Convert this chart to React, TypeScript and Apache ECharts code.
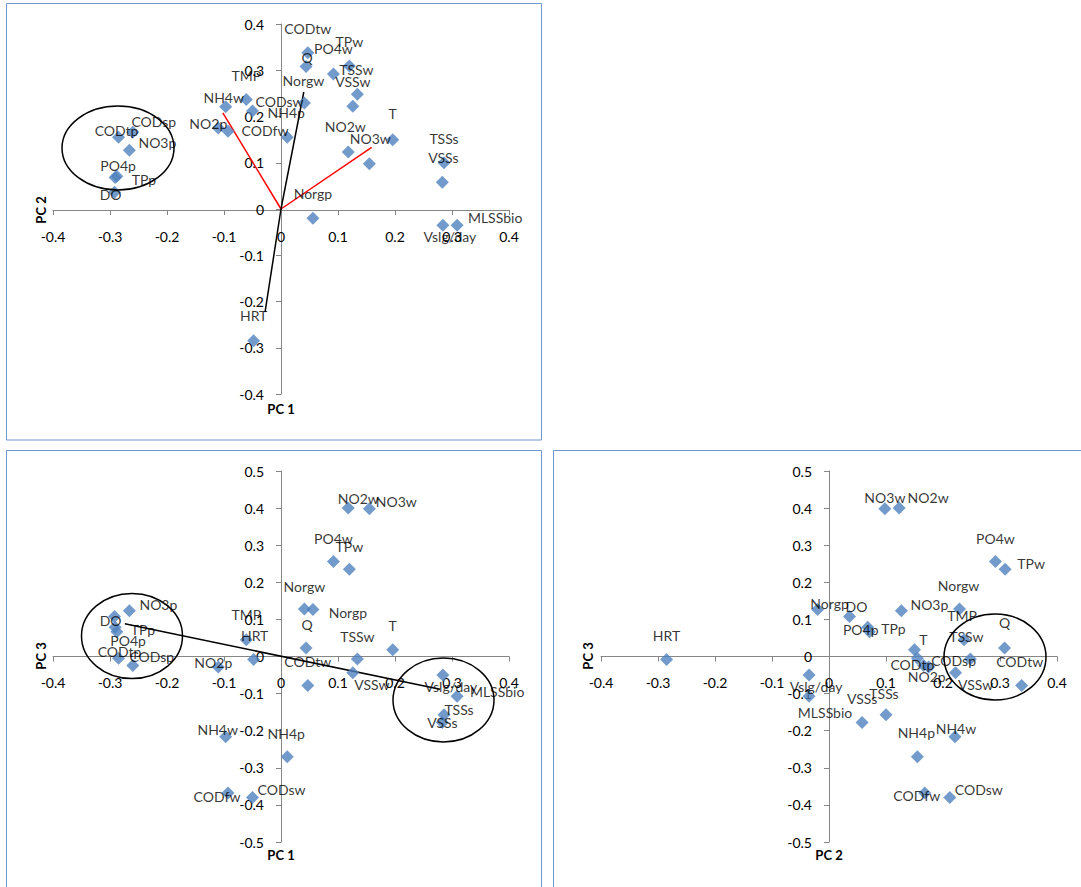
import React, { useEffect, useRef } from "react";
import * as echarts from "echarts";

// ---- data ----
const variables = [
  "CODtw", "Q", "PO4w", "TPw", "TSSw", "VSSw", "Norgw", "TMP", "NH4w", "CODsw",
  "NH4p", "NO2p", "CODfw", "CODtp", "CODsp", "NO3p", "PO4p", "TPp", "DO", "NO2w",
  "NO3w", "T", "TSSs", "VSSs", "Norgp", "MLSSbio", "Vslg/day", "HRT",
];
const pc1 = [
  0.047, 0.044, 0.092, 0.12, 0.134, 0.126, 0.041, -0.061, -0.097, -0.05,
  0.011, -0.11, -0.093, -0.285, -0.26, -0.266, -0.291, -0.288, -0.292, 0.118,
  0.155, 0.196, 0.286, 0.283, 0.056, 0.309, 0.284, -0.048,
];
const pc2 = [
  0.338, 0.308, 0.292, 0.309, 0.248, 0.222, 0.229, 0.237, 0.221, 0.212,
  0.155, 0.175, 0.168, 0.155, 0.166, 0.127, 0.068, 0.071, 0.036, 0.123,
  0.098, 0.15, 0.1, 0.058, -0.02, -0.035, -0.035, -0.285,
];
const pc3 = [
  -0.078, 0.023, 0.256, 0.235, -0.007, -0.044, 0.128, 0.045, -0.216, -0.38,
  -0.27, -0.028, -0.368, -0.005, -0.024, 0.123, 0.079, 0.067, 0.108, 0.4,
  0.398, 0.018, -0.157, -0.178, 0.127, -0.107, -0.05, -0.008,
];

// axis ranges
const rangePC12 = [-0.4, 0.4];
const rangePC3 = [-0.5, 0.5];
const tickStep = 0.1;

// loading vectors drawn from the origin (data units)
const vecRedA = [
  [-0.102, 0.208],
  [0.159, 0.133],
];
const vecBlackA = [
  [0.04, 0.253],
  [-0.028, -0.223],
];
const vecBlackB = [
  [-0.274, 0.088],
  [0.279, -0.088],
];

// ---- label placement (pixel offsets from marker centre) ----
const offsetsA = [
  [0, -24], [1, -9], [0, -25], [0, -25], [-1, -25], [0, -25], [-1, -23], [0, -24], [-2, -9], [27, -9],
  [-1, -25], [-10, -5], [37, -1], [-2, -7], [21, -11], [28, -8], [3, -12], [27, 3], [-4, 2], [-3, -26],
  [1, -25], [0, -26], [0, -24], [1, -25], [0, -25], [38, -8], [7, 11], [0, -25],
];
const offsetsB = [
  [0, -24], [1, -23], [0, -23], [0, -23], [0, -23], [19, 12], [0, -23], [0, -25], [-8, -7], [29, -8],
  [-1, -23], [-5, -4], [-11, 3], [1, -7], [19, -9], [29, -6], [13, 13], [26, -2], [-4, 4], [10, -10],
  [27, -7], [0, -24], [15, -5], [0, 0], [35, 3], [40, -5], [8, 11], [1, -24],
];
const offsetsC = [
  [-2, -24], [0, -25], [0, -23], [26, -6], [-4, -23], [20, 12], [-1, -24], [-2, -24], [1, -8], [29, -8],
  [-1, -24], [-2, 10], [-8, 2], [-5, 6], [30, -5], [28, -6], [-7, 2], [24, -3], [7, -10], [29, -11],
  [0, -11], [9, -10], [-2, -21], [0, -24], [12, -6], [16, 16], [7, 11], [0, -24],
];

const FONT = "Lato, 'Open Sans', sans-serif";
const AXIS_COLOR = "#868686";
const MARKER = "#4f81bd";
const BORDER = "#7098cf";

// axes cross at zero: shift each axis from the grid edge to the zero line
function makeAxis(type: "x" | "y", gridIndex: number, range: number[], offset: number) {
  return {
    type: "value",
    gridIndex,
    position: type === "x" ? "bottom" : "left",
    offset,
    min: range[0],
    max: range[1],
    interval: tickStep,
    axisLine: { show: true, onZero: false, lineStyle: { color: AXIS_COLOR, width: 1 } },
    axisTick: { show: true, length: 5, lineStyle: { color: AXIS_COLOR } },
    axisLabel: {
      color: "#000",
      fontSize: 14,
      fontFamily: FONT,
      margin: type === "x" ? 19 : 17,
    },
    splitLine: { show: false },
  };
}

function scatterSeries(idx: number, xs: number[], ys: number[], offs: number[][]) {
  return {
    type: "scatter",
    xAxisIndex: idx,
    yAxisIndex: idx,
    symbol: "diamond",
    symbolSize: 13,
    itemStyle: { color: MARKER },
    z: 3,
    label: {
      show: true,
      position: "inside",
      formatter: "{b}",
      color: "#000",
      fontSize: 14,
      fontFamily: FONT,
      textBorderWidth: 0,
    },
    emphasis: { disabled: true },
    data: variables.map((name, k) => ({
      name,
      value: [xs[k], ys[k]],
      label: { offset: offs[k] },
    })),
  };
}

function vectorSeries(idx: number, from: number[], to: number[], color: string) {
  return {
    type: "line",
    xAxisIndex: idx,
    yAxisIndex: idx,
    data: [from, to],
    symbol: "none",
    silent: true,
    z: 2,
    lineStyle: { color, width: 1.5 },
  };
}

export default function App() {
  const ref = useRef<HTMLDivElement>(null);

  useEffect(() => {
    if (!ref.current) return;
    const chart = echarts.init(ref.current, undefined, { renderer: "svg" });

    const titleStyle = (text: string) => ({
      text,
      fontSize: 13,
      fontWeight: "bold",
      fontFamily: FONT,
      fill: "#000",
      align: "center",
      verticalAlign: "middle",
    });

    const option: any = {
      animation: false,
      backgroundColor: "#fff",
      grid: [
        { left: 53, top: 24, width: 456, height: 370, containLabel: false, outerBoundsMode: "none" },
        { left: 53, top: 471, width: 456, height: 371, containLabel: false, outerBoundsMode: "none" },
        { left: 601, top: 471, width: 456, height: 371, containLabel: false, outerBoundsMode: "none" },
      ],
      xAxis: [
        makeAxis("x", 0, rangePC12, -184),
        makeAxis("x", 1, rangePC12, -185.5),
        makeAxis("x", 2, rangePC12, -185.5),
      ],
      yAxis: [
        makeAxis("y", 0, rangePC12, -228),
        makeAxis("y", 1, rangePC3, -228),
        makeAxis("y", 2, rangePC3, -228),
      ],
      series: [
        ...vecRedA.map((v) => vectorSeries(0, [0, 0], v, "#ff0000")),
        ...vecBlackA.map((v) => vectorSeries(0, [0, 0], v, "#000000")),
        vectorSeries(1, vecBlackB[0], vecBlackB[1], "#000000"),
        scatterSeries(0, pc1, pc2, offsetsA),
        scatterSeries(1, pc1, pc3, offsetsB),
        scatterSeries(2, pc2, pc3, offsetsC),
      ],
      graphic: {
        elements: [
          { type: "rect", shape: { x: 6.5, y: 3.5, width: 535, height: 436.5 }, style: { fill: "none", stroke: BORDER, lineWidth: 1 }, silent: true },
          { type: "rect", shape: { x: 6.5, y: 450.5, width: 535, height: 460 }, style: { fill: "none", stroke: BORDER, lineWidth: 1 }, silent: true },
          { type: "rect", shape: { x: 553.5, y: 450.5, width: 560, height: 460 }, style: { fill: "none", stroke: BORDER, lineWidth: 1 }, silent: true },
          { type: "ellipse", shape: { cx: 118, cy: 148, rx: 56, ry: 42 }, style: { fill: "none", stroke: "#000", lineWidth: 1.5 }, z: 100, silent: true },
          { type: "ellipse", shape: { cx: 132, cy: 636, rx: 50.5, ry: 42.5 }, style: { fill: "none", stroke: "#000", lineWidth: 1.5 }, z: 100, silent: true },
          { type: "ellipse", shape: { cx: 443.5, cy: 700, rx: 50.5, ry: 42 }, style: { fill: "none", stroke: "#000", lineWidth: 1.5 }, z: 100, silent: true },
          { type: "ellipse", shape: { cx: 995, cy: 657, rx: 51, ry: 43 }, style: { fill: "none", stroke: "#000", lineWidth: 1.5 }, z: 100, silent: true },
          { type: "text", x: 281, y: 409, style: titleStyle("PC 1"), silent: true },
          { type: "text", x: 41, y: 210, rotation: Math.PI / 2, style: titleStyle("PC 2"), silent: true },
          { type: "text", x: 281, y: 855, style: titleStyle("PC 1"), silent: true },
          { type: "text", x: 41, y: 656, rotation: Math.PI / 2, style: titleStyle("PC 3"), silent: true },
          { type: "text", x: 829, y: 855, style: titleStyle("PC 2"), silent: true },
          { type: "text", x: 588, y: 656, rotation: Math.PI / 2, style: titleStyle("PC 3"), silent: true },
        ],
      },
    };

    chart.setOption(option);
    return () => chart.dispose();
  }, []);

  return (
    <div
      ref={ref}
      style={{ position: "absolute", left: 0, top: 0, width: 1081, height: 887, background: "#fff" }}
    />
  );
}
